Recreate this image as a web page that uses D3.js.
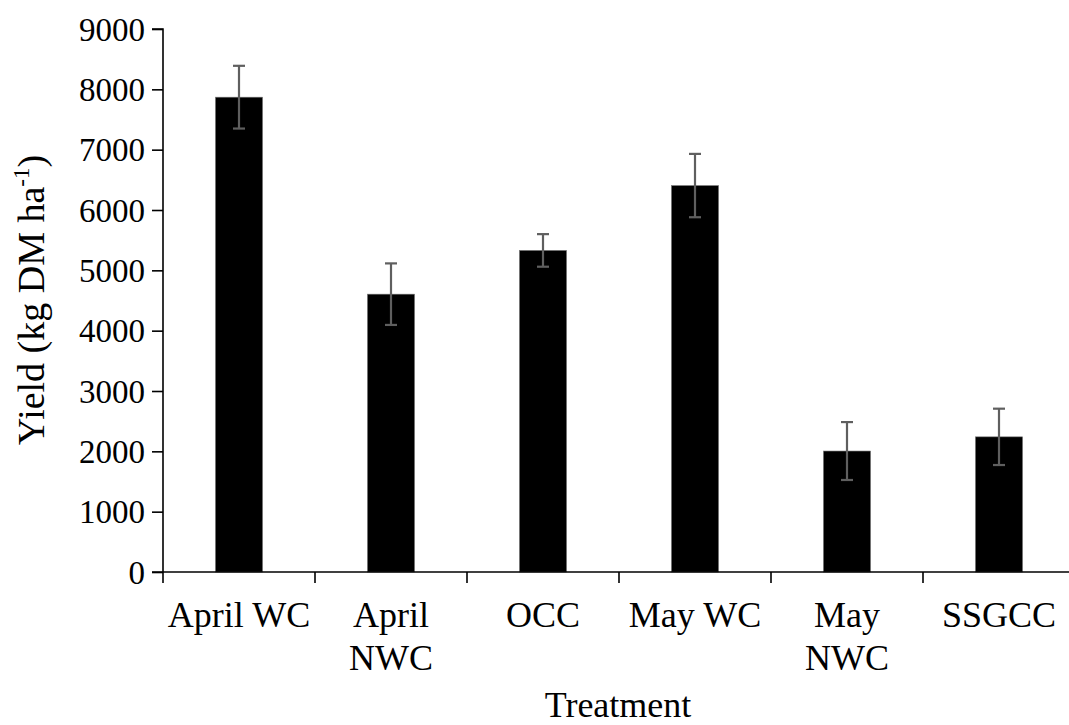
<!DOCTYPE html>
<html>
<head>
<meta charset="utf-8">
<script src="https://cdn.jsdelivr.net/npm/d3@7"></script>
<style>
  html, body { margin: 0; padding: 0; background: #fff; }
  svg { display: block; font-family: "Liberation Serif", "Times New Roman", serif; }
</style>
</head>
<body>
<svg id="chart" width="1069" height="725"></svg>
<script>
const categories = ["April WC", "April NWC", "OCC", "May WC", "May NWC", "SSGCC"];
const categoryLines = [["April WC"], ["April", "NWC"], ["OCC"], ["May WC"], ["May", "NWC"], ["SSGCC"]];
const yields = [7870, 4605, 5330, 6405, 2005, 2240];
const errors = [520, 510, 270, 525, 480, 467];
const yTicks = [0, 1000, 2000, 3000, 4000, 5000, 6000, 7000, 8000, 9000];
const yTickLabels = ["0", "1000", "2000", "3000", "4000", "5000", "6000", "7000", "8000", "9000"];

(function () {
const svg = d3.select("#chart");
const pLeft = 163, pRight = 1075, pTop = 29, pBottom = 572;

const x = d3.scaleBand().domain(categories).range([pLeft, pRight]).padding(0);
const y = d3.scaleLinear().domain([0, 9000]).range([pBottom, pTop]);

const barW = x.bandwidth() * 0.31;

// bars
svg.append("g").selectAll("rect").data(categories).join("rect")
  .attr("x", (d) => x(d) + x.bandwidth() / 2 - barW / 2)
  .attr("y", (d, i) => y(yields[i]))
  .attr("width", barW)
  .attr("height", (d, i) => y(0) - y(yields[i]))
  .attr("fill", "#000")
  .attr("stroke", "#777")
  .attr("stroke-width", 0.6);

// error bars
const eg = svg.append("g").attr("stroke", "#5f5f5f").attr("stroke-width", 2.2);
categories.forEach((c, i) => {
  const cx = x(c) + x.bandwidth() / 2;
  const y1 = y(yields[i] + errors[i]), y2 = y(yields[i] - errors[i]);
  eg.append("line").attr("x1", cx).attr("x2", cx).attr("y1", y1).attr("y2", y2);
  eg.append("line").attr("x1", cx - 6).attr("x2", cx + 6).attr("y1", y1).attr("y2", y1);
  eg.append("line").attr("x1", cx - 6).attr("x2", cx + 6).attr("y1", y2).attr("y2", y2);
});

// y axis
const yAxis = d3.axisLeft(y).tickValues(yTicks)
  .tickFormat((d, i) => yTickLabels[i]).tickSize(11).tickPadding(7);
const yg = svg.append("g").attr("transform", `translate(${pLeft},0)`).call(yAxis);
yg.select(".domain").attr("stroke", "#000").attr("stroke-width", 1.6).attr("d", `M-11,${pTop}H0V${pBottom}`);
yg.selectAll(".tick line").attr("stroke", "#000").attr("stroke-width", 1.6);
yg.selectAll(".tick text").attr("font-family", "Liberation Serif, serif")
  .attr("font-size", 33).attr("fill", "#000").attr("dy", "0.34em");

// x axis
const xg = svg.append("g");
xg.append("line").attr("x1", pLeft - 11).attr("x2", pRight).attr("y1", pBottom).attr("y2", pBottom)
  .attr("stroke", "#000").attr("stroke-width", 1.6);
const boundaries = categories.map((c) => x(c)).concat([x(categories[categories.length - 1]) + x.bandwidth()]);
xg.selectAll("line.tk").data(boundaries).join("line").attr("class", "tk")
  .attr("x1", (d) => d).attr("x2", (d) => d).attr("y1", pBottom).attr("y2", pBottom + 11)
  .attr("stroke", "#000").attr("stroke-width", 1.6);

// category labels
categories.forEach((c, i) => {
  const cx = x(c) + x.bandwidth() / 2;
  const t = svg.append("text").attr("x", cx).attr("y", 627).attr("text-anchor", "middle")
    .attr("font-size", 36).attr("fill", "#000");
  categoryLines[i].forEach((ln, j) => {
    t.append("tspan").attr("x", cx).attr("dy", j === 0 ? 0 : 43).text(ln);
  });
});

// axis titles
svg.append("text").attr("x", 618).attr("y", 717).attr("text-anchor", "middle")
  .attr("font-size", 36).attr("fill", "#000").text("Treatment");

const yt = svg.append("text").attr("transform", `translate(44,300) rotate(-90)`)
  .attr("text-anchor", "middle").attr("font-size", 38).attr("fill", "#000");
yt.append("tspan").text("Yield (kg DM ha");
yt.append("tspan").attr("font-size", 23).attr("dy", -15).text("-1");
yt.append("tspan").attr("dy", 15).text(")");
})();
</script>
</body>
</html>
